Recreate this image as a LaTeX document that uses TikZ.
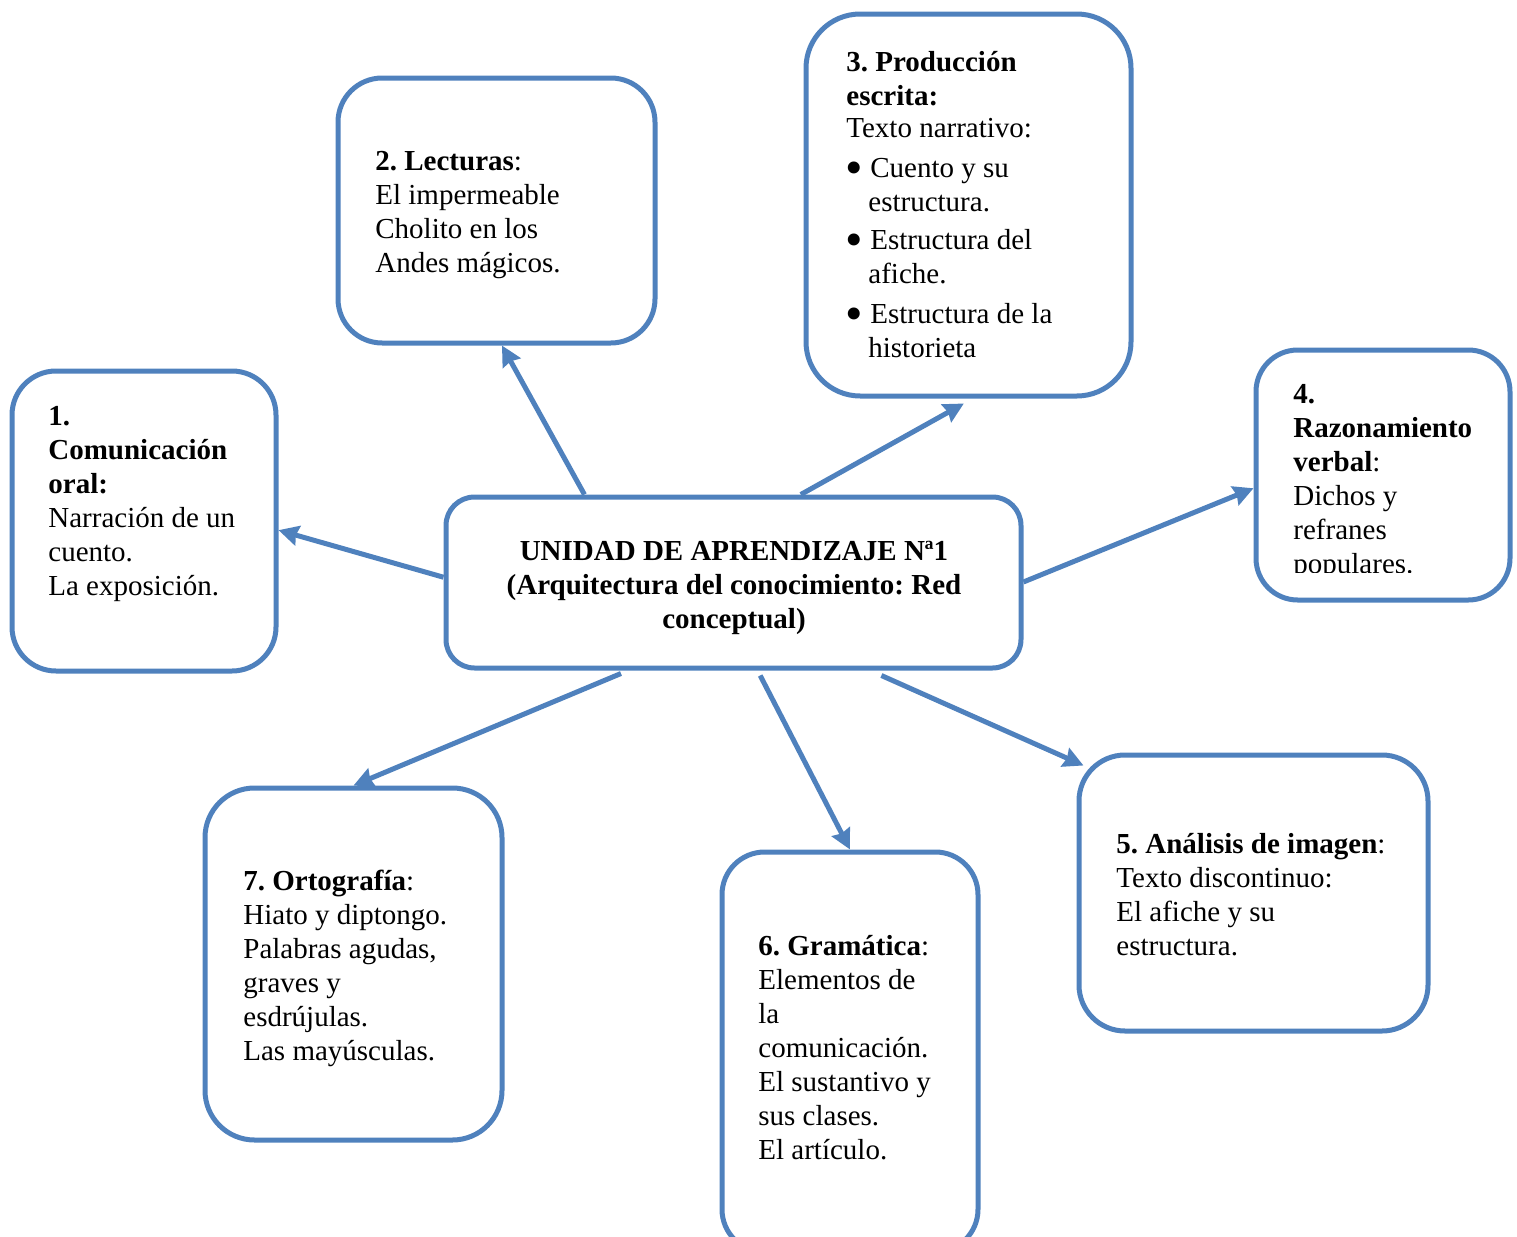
\documentclass[tikz,border=0pt]{standalone}
\usepackage{fontspec}
\setmainfont{Liberation Serif}
\usetikzlibrary{arrows.meta,shapes,backgrounds,calc}
\definecolor{netblue}{RGB}{79,129,189}
\newcommand{\topicbullet}{\makebox[12pt][l]{\hspace{-0.4pt}\raisebox{-3.4pt}{\fontsize{25pt}{17pt}\selectfont\textbullet}}}

\begin{document}
\frenchspacing
\begin{tikzpicture}[x=0.5pt,y=-0.5pt,
    topicbox/.style={draw=netblue,line width=2.5pt,fill=white,inner sep=0pt},
    topictext/.style={anchor=north west,inner sep=0pt,align=left,
      font=\fontsize{14.5pt}{17pt}\selectfont},
    link/.style={draw=netblue,line width=2.5pt,
      -{Stealth[length=10pt,width=10pt,inset=1pt]}}]
    \useasboundingbox (0,0) rectangle (1517,1237);
    % Boxes: name/left/top/right/bottom
    \foreach \n/\xa/\ya/\xb/\yb in {b1/12/371/276/671, b2/338/78/655/343,
        b3/806/14/1131/396, b4/1256/350/1510/600, b5/1079/755/1428/1031,
        b6/722/852/978/1252, b7/205/788/502/1140, cen/446/497/1021/668} {
      \node[topicbox,minimum width={(\xb-\xa)*0.5pt},minimum height={(\yb-\ya)*0.5pt},
        rounded corners={min(\xb-\xa,\yb-\ya)/12*1pt}]
        (\n) at ({(\xa+\xb)/2},{(\ya+\yb)/2}) {};
    }
    % Texts
    \node[topictext,anchor=north,align=center,font=\fontsize{14.5pt}{17pt}\selectfont\bfseries]
      (tc) at (734,536) {\strut UNIDAD DE APRENDIZAJE Nª1\\(Arquitectura del conocimiento: Red\\conceptual)};
    \node[topictext] (t1) at (48,401) {\strut\textbf{1.}\\\textbf{Comunicación}\\\textbf{oral:}\\
      Narración de un\\cuento.\\La exposición.};
    \node[topictext] (t2) at (375,146) {\strut\textbf{2. Lecturas}:\\El impermeable\\
      Cholito en los\\Andes mágicos.};
    \node[topictext] (t3) at (846,47) {\strut\textbf{3. Producción}\\\textbf{escrita:}\\[-1pt]
      Texto narrativo:\\[3pt]
      \topicbullet Cuento y su\\\hspace*{11pt}estructura.\\[2pt]
      \topicbullet Estructura del\\\hspace*{11pt}afiche.\\[3pt]
      \topicbullet Estructura de la\\\hspace*{11pt}historieta};
    \begin{scope}
      \clip (1256,350) rectangle (1510,572);
      \node[topictext] (t4) at (1293,379) {\strut\textbf{4.}\\\textbf{Razonamiento}\\
        \textbf{verbal}:\\Dichos y\\refranes\\populares.};
    \end{scope}
    \node[topictext] (t5) at (1116,829) {\strut\textbf{5. Análisis de imagen}:\\
      Texto discontinuo:\\El afiche y su\\estructura.};
    \node[topictext] (t6) at (758,931) {\strut\textbf{6. Gramática}:\\Elementos de\\la\\
      comunicación.\\El sustantivo y\\sus clases.\\El artículo.};
    \node[topictext] (t7) at (243,866) {\strut\textbf{7. Ortografía}:\\Hiato y diptongo.\\
      Palabras agudas,\\graves y\\esdrújulas.\\Las mayúsculas.};
    % Links from the centre
    \draw[link] ($(cen.north west)!0.47!(cen.south west)$) -- ($(b1.north east)!0.53!(b1.south east)$);
    \draw[link] ($(cen.north west)!0.243!(cen.north east)$) -- ($(b2.south west)!0.517!(b2.south east)$);
    \draw[link] ($(cen.north west)!0.616!(cen.north east)$) -- ($(b3.south west)!0.486!(b3.south east)+(0,5)$);
    \draw[link] ($(cen.north east)!0.497!(cen.south east)$) -- ($(b4.north west)!0.552!(b4.south west)$);
    \draw[link] ($(cen.south west)!0.755!(cen.south east)+(0,5)$) -- ($(b5.north west)+(7,13)$);
    \draw[link] ($(cen.south west)!0.546!(cen.south east)+(0,5)$) -- (b6.north);
    \draw[link] ($(cen.south west)!0.306!(cen.south east)+(0,3)$) -- (b7.north);
\end{tikzpicture}
\end{document}
